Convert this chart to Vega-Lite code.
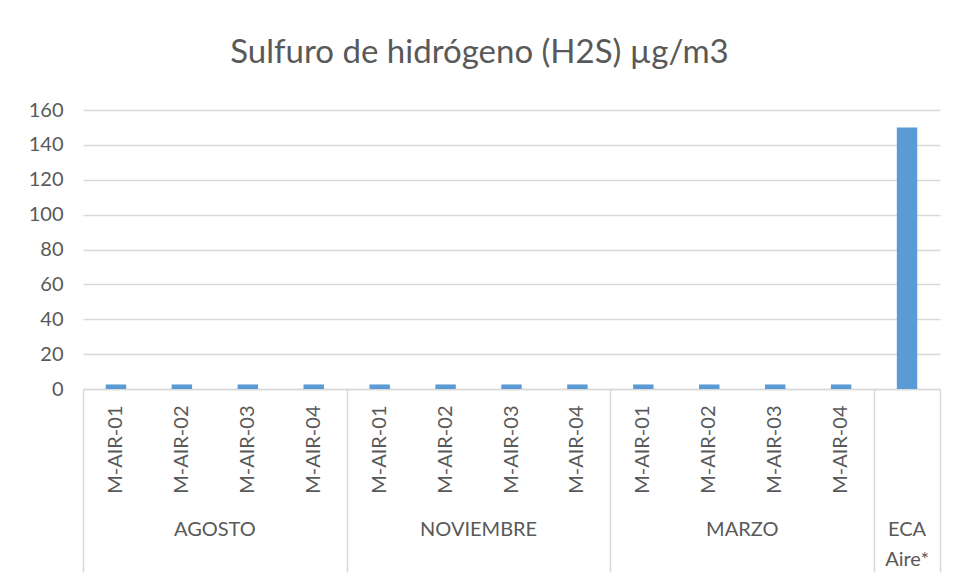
{
  "$schema": "https://vega.github.io/schema/vega-lite/v6.json",
  "autosize": "none",
  "width": 857,
  "height": 279,
  "padding": {"left": 83, "top": 110, "right": 20, "bottom": 192},
  "background": "white",
  "title": {
    "text": "Sulfuro de hidrógeno (H2S) µg/m3",
    "font": "Lato",
    "fontSize": 33,
    "fontWeight": "normal",
    "color": "#595959",
    "anchor": "middle",
    "frame": "group",
    "dx": -32,
    "offset": 30
  },
  "data": {
    "values": [
      {"id": "AGOSTO M-AIR-01", "periodo": "AGOSTO", "estacion": "M-AIR-01", "valor": 2.6},
      {"id": "AGOSTO M-AIR-02", "periodo": "AGOSTO", "estacion": "M-AIR-02", "valor": 2.6},
      {"id": "AGOSTO M-AIR-03", "periodo": "AGOSTO", "estacion": "M-AIR-03", "valor": 2.6},
      {"id": "AGOSTO M-AIR-04", "periodo": "AGOSTO", "estacion": "M-AIR-04", "valor": 2.6},
      {"id": "NOVIEMBRE M-AIR-01", "periodo": "NOVIEMBRE", "estacion": "M-AIR-01", "valor": 2.6},
      {"id": "NOVIEMBRE M-AIR-02", "periodo": "NOVIEMBRE", "estacion": "M-AIR-02", "valor": 2.6},
      {"id": "NOVIEMBRE M-AIR-03", "periodo": "NOVIEMBRE", "estacion": "M-AIR-03", "valor": 2.6},
      {"id": "NOVIEMBRE M-AIR-04", "periodo": "NOVIEMBRE", "estacion": "M-AIR-04", "valor": 2.6},
      {"id": "MARZO M-AIR-01", "periodo": "MARZO", "estacion": "M-AIR-01", "valor": 2.6},
      {"id": "MARZO M-AIR-02", "periodo": "MARZO", "estacion": "M-AIR-02", "valor": 2.6},
      {"id": "MARZO M-AIR-03", "periodo": "MARZO", "estacion": "M-AIR-03", "valor": 2.6},
      {"id": "MARZO M-AIR-04", "periodo": "MARZO", "estacion": "M-AIR-04", "valor": 2.6},
      {"id": "ECA Aire*", "periodo": "ECA Aire*", "estacion": "", "valor": 150}
    ]
  },
  "layer": [
    {
      "mark": {"type": "bar", "color": "#5b9bd5", "width": {"band": 0.31}},
      "encoding": {
        "x": {
          "field": "id",
          "type": "nominal",
          "sort": null,
          "scale": {"paddingInner": 0, "paddingOuter": 0},
          "axis": {
            "orient": "bottom",
            "title": null,
            "ticks": false,
            "domainColor": "#d9d9d9",
            "domainWidth": 1.5,
            "labelAngle": 270,
            "labelPadding": 16,
            "labelOverlap": false,
            "labelExpr": "datum.value == 'ECA Aire*' ? '' : split(datum.value, ' ')[1]"
          }
        },
        "y": {
          "field": "valor",
          "type": "quantitative",
          "scale": {"domain": [0, 160], "nice": false},
          "axis": {
            "title": null,
            "values": [0, 20, 40, 60, 80, 100, 120, 140, 160],
            "ticks": false,
            "domain": false,
            "labelPadding": 20,
            "gridColor": "#d9d9d9",
            "gridWidth": 1.5
          }
        }
      }
    },
    {
      "mark": {"type": "bar", "opacity": 0},
      "encoding": {
        "x": {
          "field": "id",
          "type": "nominal",
          "sort": null,
          "axis": {
            "orient": "bottom",
            "title": null,
            "labels": false,
            "domain": false,
            "grid": false,
            "tickBand": "extent",
            "tickSize": 183,
            "tickColor": "#d9d9d9",
            "tickWidth": 1.5,
            "tickOpacity": {
              "condition": {
                "test": "datum.extra || indexof(['AGOSTO M-AIR-04','NOVIEMBRE M-AIR-04','MARZO M-AIR-04','ECA Aire*'], datum.value) >= 0",
                "value": 1
              },
              "value": 0
            }
          }
        }
      }
    },
    {
      "mark": {"type": "bar", "opacity": 0},
      "encoding": {
        "x": {
          "field": "id",
          "type": "nominal",
          "sort": null,
          "axis": {
            "orient": "bottom",
            "title": null,
            "ticks": false,
            "domain": false,
            "grid": false,
            "values": ["AGOSTO M-AIR-02", "NOVIEMBRE M-AIR-02", "MARZO M-AIR-02", "ECA Aire*"],
            "labelAngle": 0,
            "labelAlign": "center",
            "labelBaseline": "top",
            "labelPadding": 130,
            "labelLineHeight": 30,
            "labelOverlap": false,
            "labelOffset": {
              "condition": {"test": "datum.value == 'ECA Aire*'", "value": 0},
              "value": 33
            },
            "labelExpr": "datum.value == 'ECA Aire*' ? ['ECA', 'Aire*'] : split(datum.value, ' ')[0]"
          }
        }
      }
    }
  ],
  "resolve": {"axis": {"x": "independent"}},
  "config": {
    "view": {"stroke": null},
    "axis": {
      "labelFont": "Lato",
      "labelFontSize": 20,
      "labelColor": "#595959"
    }
  }
}
